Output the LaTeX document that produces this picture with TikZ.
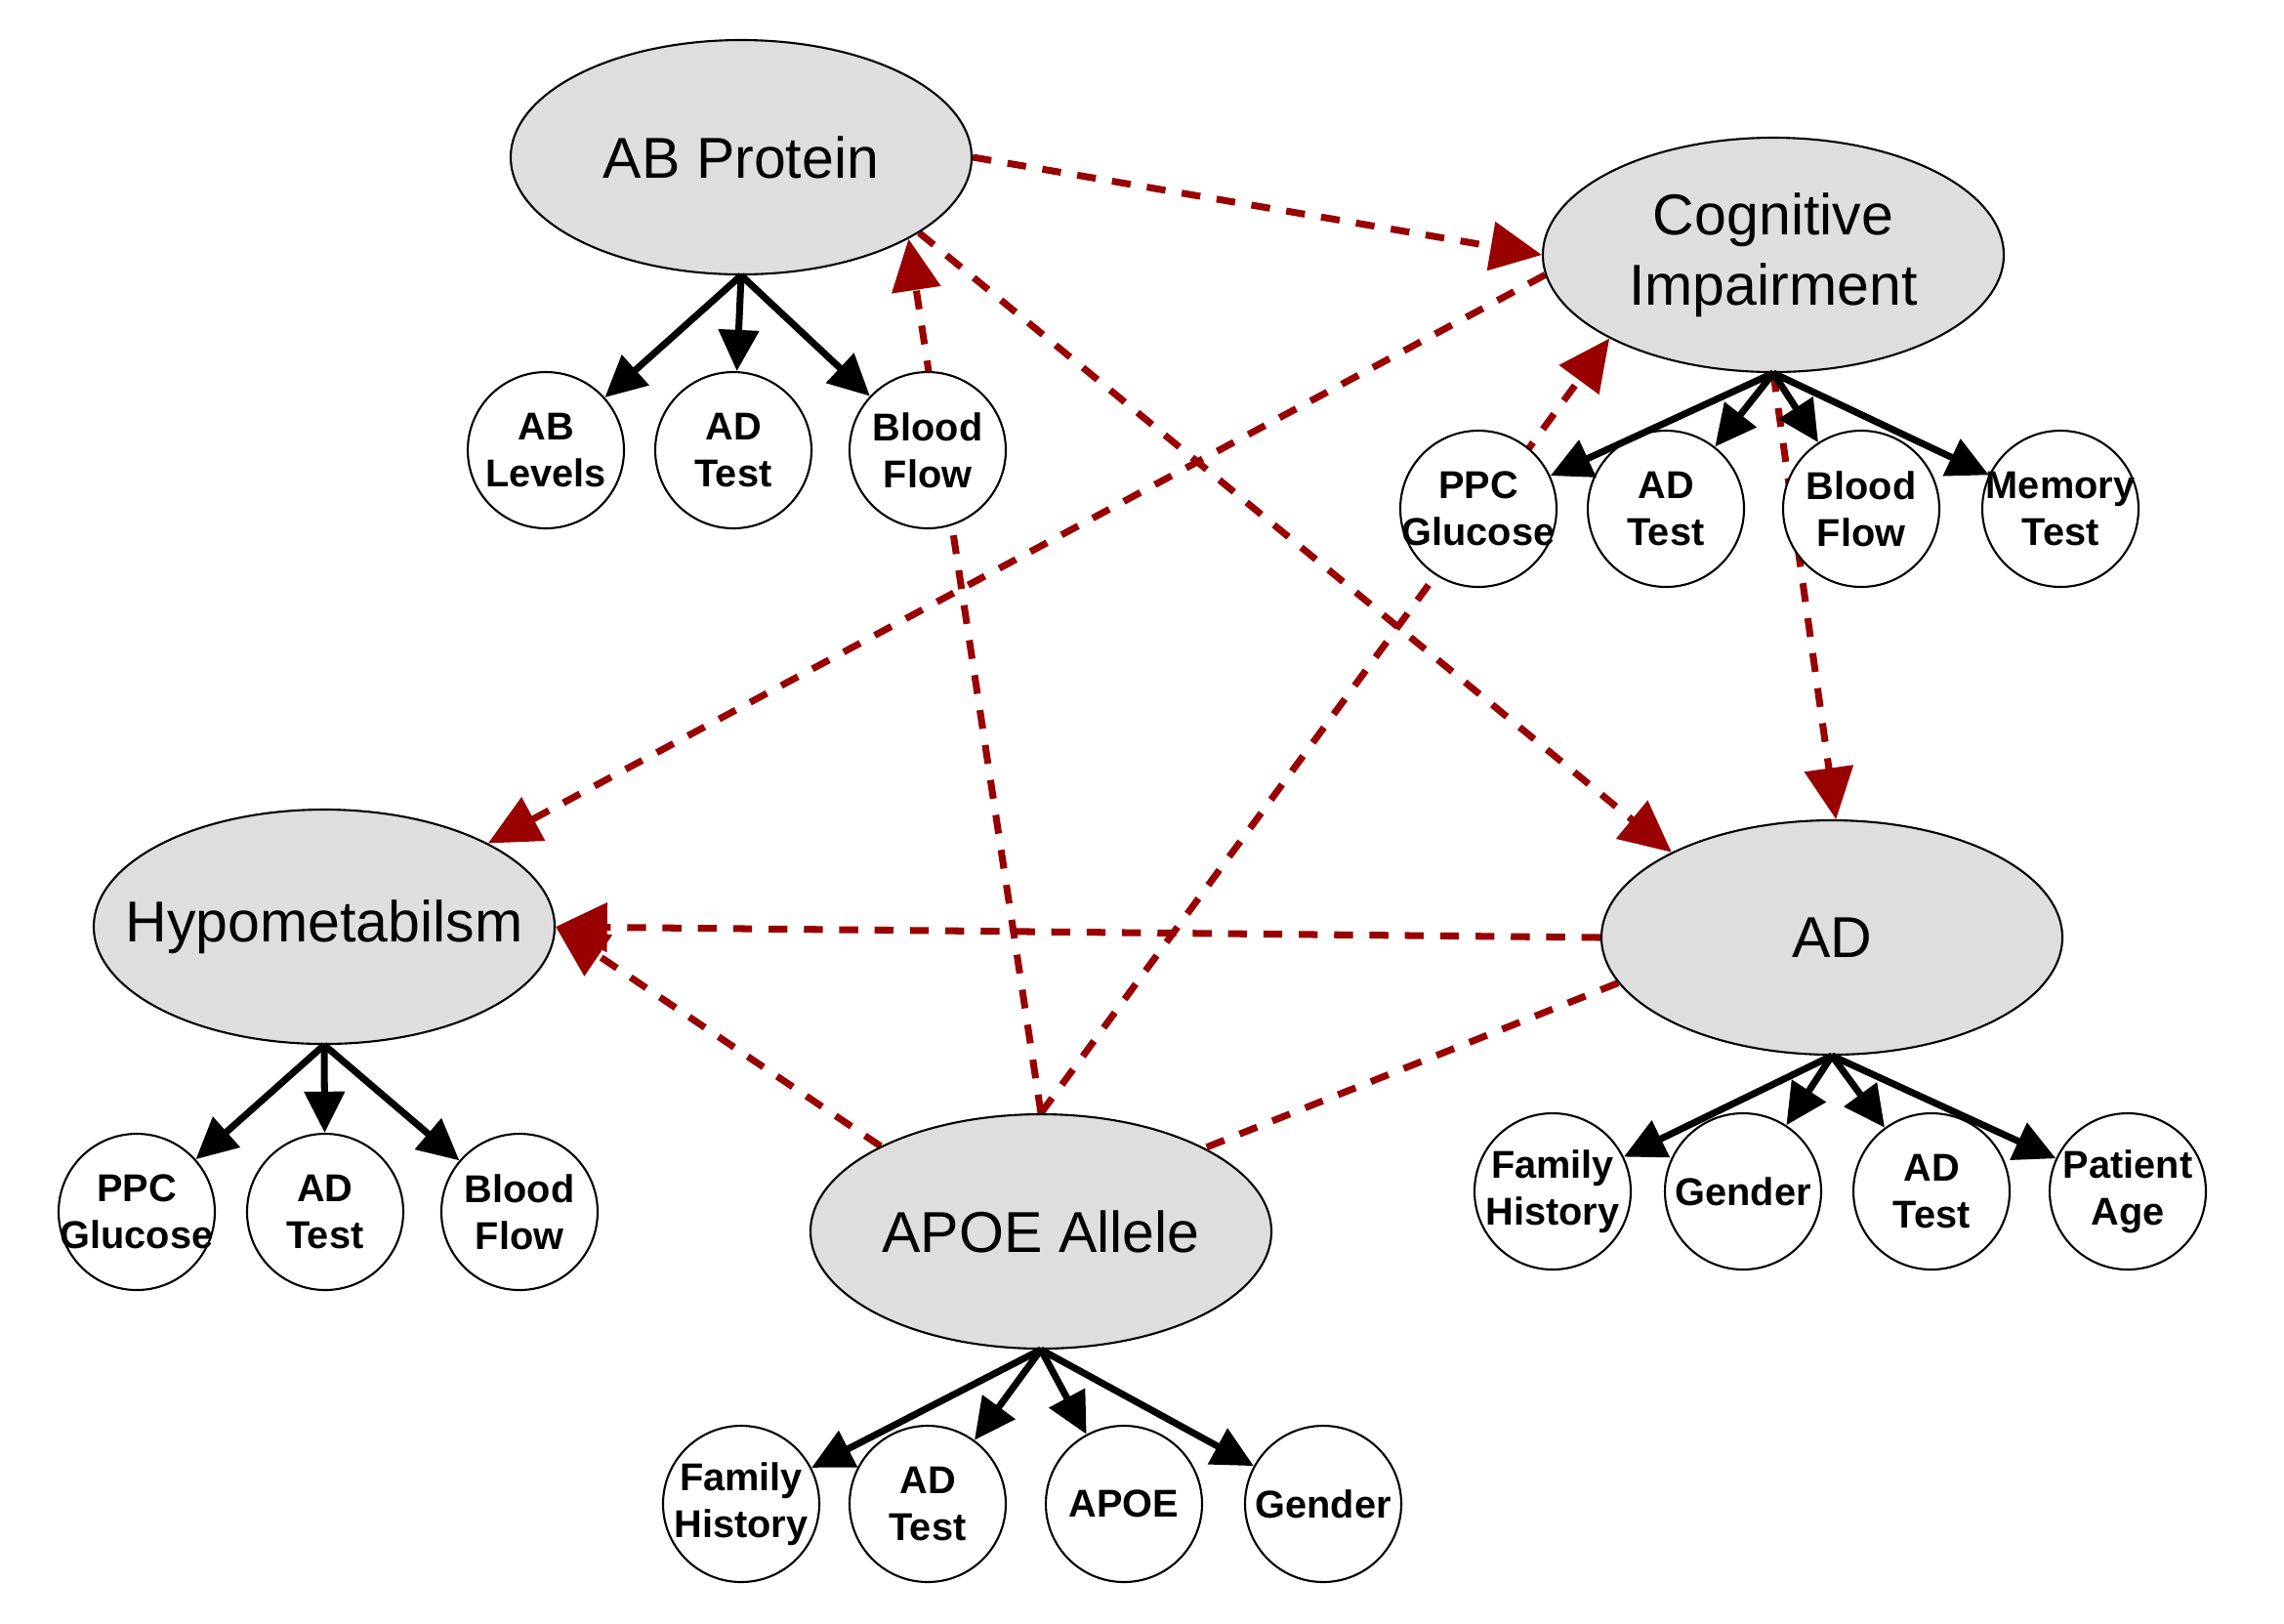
\documentclass[tikz,border=0pt]{standalone}
\usepackage{fontspec}
\setmainfont{Liberation Sans}
\usepackage{xcolor}
\usepackage{tikz}
\usetikzlibrary{arrows.meta,shapes.geometric,backgrounds}

\definecolor{nodegray}{HTML}{DEDEDE}
\definecolor{edgered}{HTML}{990000}

\begin{document}
\begin{tikzpicture}[
  latent/.style={ellipse, draw, line width=0.6pt, fill=nodegray, minimum width=4.72cm, minimum height=2.4cm, inner sep=-5mm, font=\fontsize{16.8}{20.5}\selectfont, align=center},
  obs/.style={circle, draw, line width=0.6pt, fill=white, minimum size=1.6cm, inner sep=-1.5mm, font=\fontsize{11.3}{13.7}\selectfont\bfseries, align=center},
  child/.style={-{Triangle[length=12pt,width=11.5pt]}, line width=2pt},
  link/.style={edgered, line width=2pt, dash pattern=on 5.5pt off 4.8pt},
  cause/.style={link, -{Triangle[length=15pt,width=14pt]}}
]
\useasboundingbox (0,0) rectangle (23.39,-16.62);
% main variables
\node[latent] (AB) at (7.59,-1.61) {AB Protein};
\node[latent] (CI) at (18.16,-2.61) {Cognitive\\Impairment};
\node[latent] (Hypo) at (3.32,-9.49) {Hypometabilsm};
\node[latent] (AD) at (18.76,-9.60) {AD};
\node[latent] (APOE) at (10.66,-12.61) {APOE Allele};
% observed nodes
\node[obs] (abLevels) at (5.59,-4.61) {AB\\Levels};
\node[obs] (abTest) at (7.51,-4.61) {AD\\Test};
\node[obs] (abFlow) at (9.50,-4.61) {Blood\\Flow};
\node[obs] (ciPPC) at (15.14,-5.21) {PPC\\Glucose};
\node[obs] (ciTest) at (17.06,-5.21) {AD\\Test};
\node[obs] (ciFlow) at (19.06,-5.21) {Blood\\Flow};
\node[obs] (ciMemory) at (21.10,-5.21) {Memory\\Test};
\node[obs] (hypoPPC) at (1.40,-12.41) {PPC\\Glucose};
\node[obs] (hypoTest) at (3.33,-12.41) {AD\\Test};
\node[obs] (hypoFlow) at (5.32,-12.41) {Blood\\Flow};
\node[obs] (adFamily) at (15.90,-12.20) {Family\\History};
\node[obs] (adGender) at (17.85,-12.20) {Gender};
\node[obs] (adTest) at (19.78,-12.20) {AD\\Test};
\node[obs] (adAge) at (21.79,-12.20) {Patient\\Age};
\node[obs] (apoeFamily) at (7.59,-15.40) {Family\\History};
\node[obs] (apoeTest) at (9.50,-15.40) {AD\\Test};
\node[obs] (apoeAPOE) at (11.51,-15.40) {APOE};
\node[obs] (apoeGender) at (13.55,-15.40) {Gender};
% measurements
\foreach \n in {abLevels,abTest,abFlow} \draw[child] (AB.south) -- (\n);
\foreach \n in {ciPPC,ciTest,ciFlow,ciMemory} \draw[child] (CI.south) -- (\n);
\foreach \n in {hypoPPC,hypoTest,hypoFlow} \draw[child] (Hypo.south) -- (\n);
\foreach \n in {adFamily,adGender,adTest,adAge} \draw[child] (AD.south) -- (\n);
\foreach \n in {apoeFamily,apoeTest,apoeAPOE,apoeGender} \draw[child] (APOE.south) -- (\n);
% dependencies
\begin{scope}[on background layer]
\fill[white] (0,0) rectangle (23.39,-16.62);
\draw[cause] (AB.east) -- (CI.west);
\draw[cause] (APOE.north) -- (AB.-26);
\draw[cause] (AB.-23) -- (AD.152);
\draw[cause] (CI.-175) -- (Hypo.27);
\draw[cause] (APOE.north) -- (CI.207);
\draw[cause] (CI.south) -- (AD.88);
\draw[cause] (AD.west) -- (Hypo.east);
\draw[cause] (APOE.152) -- (Hypo.east);
\draw[link] (AD.192) -- (APOE.27);
\end{scope}
\end{tikzpicture}
\end{document}
